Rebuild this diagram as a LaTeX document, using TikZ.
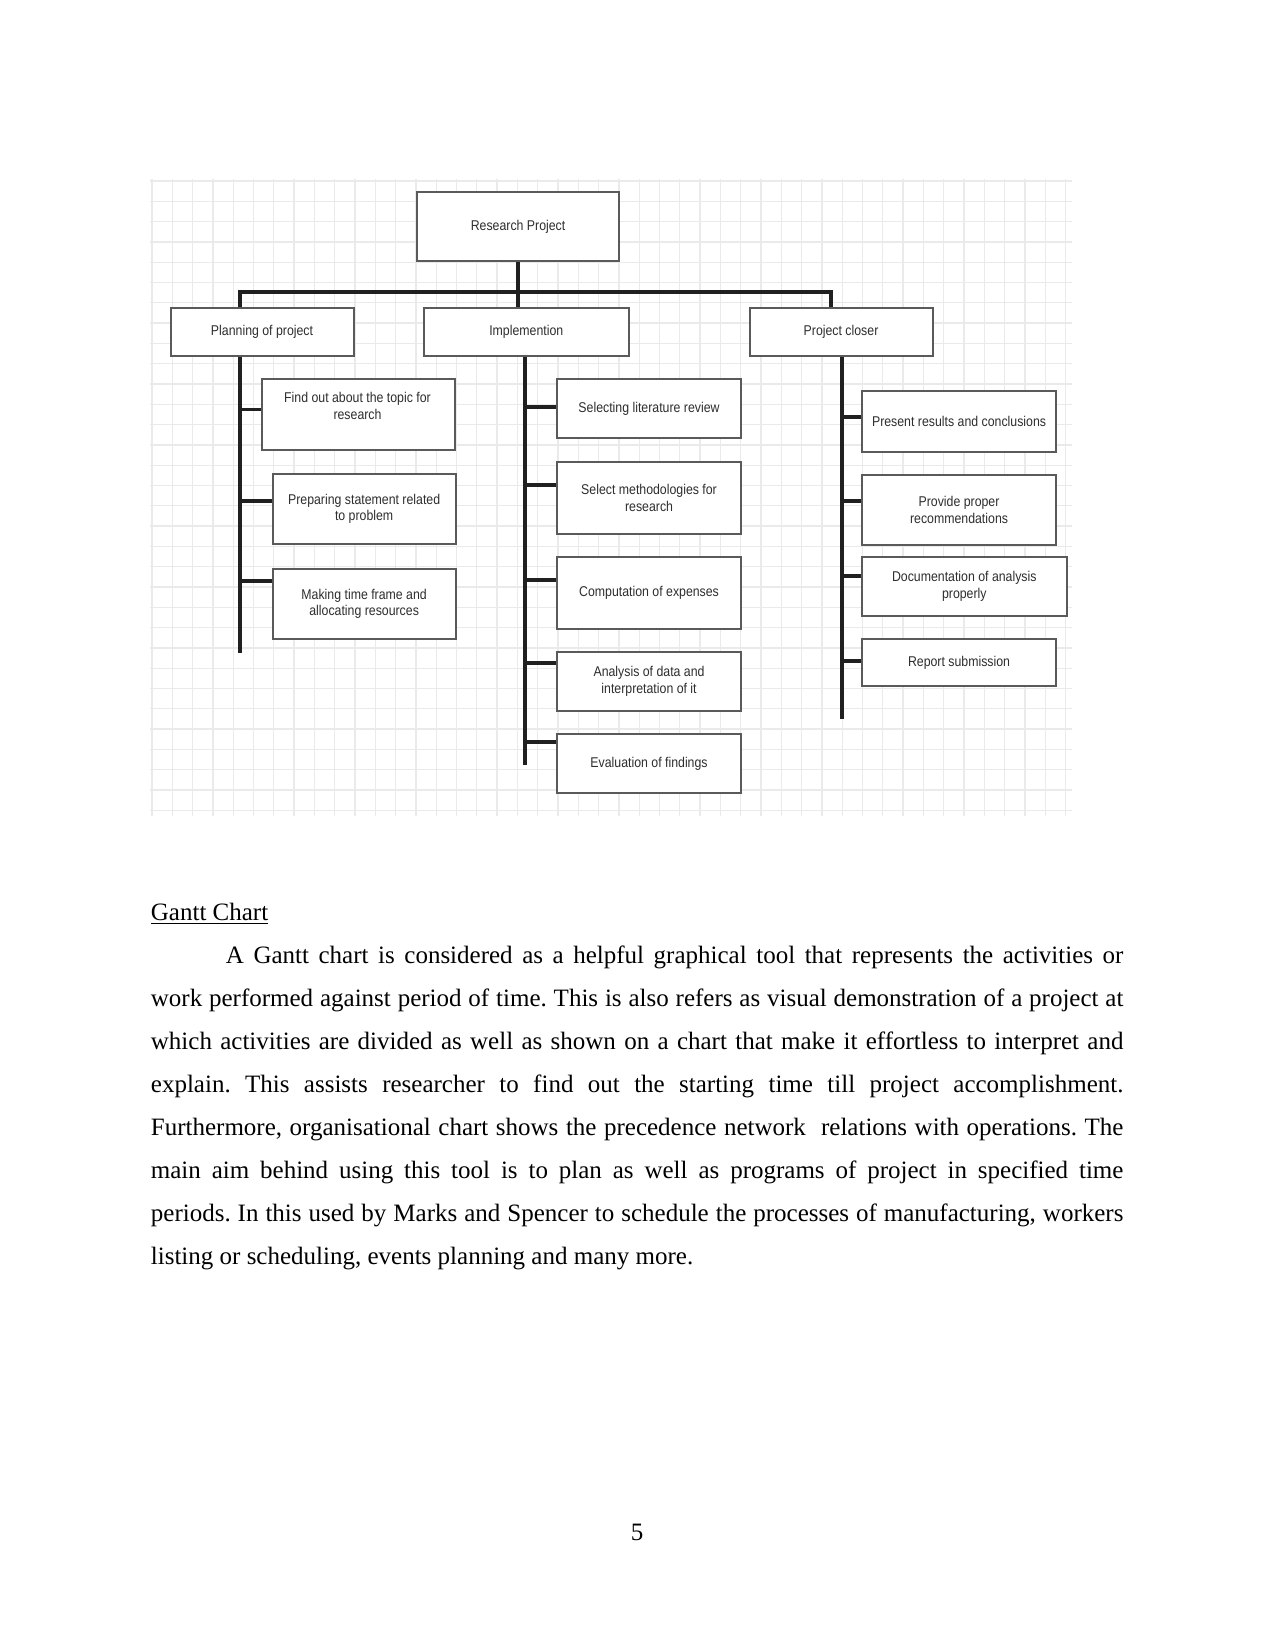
\documentclass[tikz,border=0pt]{standalone}
\usepackage{fontspec}
\setmainfont{Liberation Serif}
\newfontfamily\diagfont[FakeStretch=0.87]{Liberation Sans}
\definecolor{boxgray}{HTML}{5A5A5A}
\definecolor{conncol}{HTML}{202020}
\definecolor{txtgray}{HTML}{2E2E2E}
\definecolor{gridcol}{HTML}{EAEAEA}
\begin{document}
\frenchspacing
\begin{tikzpicture}[x=0.48pt,y=-0.48pt,
  box/.style={draw=boxgray, line width=1pt, fill=white, anchor=north west,
    font=\diagfont\fontsize{6.8pt}{8.1pt}\selectfont, text=txtgray, align=center, inner sep=0pt},
  lbl/.style={font=\diagfont\fontsize{6.8pt}{8.1pt}\selectfont, text=txtgray, align=center, inner sep=0pt},
  conn/.style={draw=conncol, line width=1.5pt},
  gridl/.style={draw=gridcol, line width=0.6pt},
  body/.style={font=\fontsize{12pt}{20.7pt}\selectfont, inner sep=0pt}]
\useasboundingbox (0,0) rectangle (1275,1651);
% background grid
\foreach \x in {152,172.3,...,1072} \draw[gridl] (\x,179) -- (\x,816);
\foreach \y in {181,201.3,...,816} \draw[gridl] (150,\y) -- (1072,\y);

% trunk end points
\coordinate (busL) at (240,292);
\coordinate (busR) at (831,292);
\coordinate (tP) at (240,653);
\coordinate (tI) at (525,765);
\coordinate (tC) at (842,719);

% boxes
\node[box, minimum width=202*0.48pt, minimum height=69*0.48pt] (RP) at (416,191) {Research Project};
\node[box, minimum width=183*0.48pt, minimum height=48*0.48pt] (P) at (169.5,307) {Planning of project};
\node[box, minimum width=204.5*0.48pt, minimum height=48*0.48pt] (I) at (423,307) {Implemention};
\node[box, minimum width=183*0.48pt, minimum height=48*0.48pt] (C) at (748.5,307) {Project closer};

\draw[conn] (RP.south) -- (I.north -| RP.south);
\draw[conn] (P.north -| busL) -- (busL) -- (busR) -- (C.north -| busR);
\draw[conn] (P.south -| tP) -- (tP);
\draw[conn] (I.south -| tI) -- (tI);
\draw[conn] (C.south -| tC) -- (tC);

% planning children
\node[box, minimum width=193*0.48pt, minimum height=70.5*0.48pt] (p1) at (261,378) {};
\node[lbl] (p1t) at (357.5,405.5) {Find out about the topic for\\research};
\node[box, minimum width=183*0.48pt, minimum height=70.3*0.48pt] (p2) at (271.6,472.7) {Preparing statement related\\to problem};
\node[box, minimum width=183*0.48pt, minimum height=70.5*0.48pt] (p3) at (271.6,567.5) {Making time frame and\\allocating resources};
\draw[conn] (tP |- 0,409.5) -- (p1.west |- 0,409.5);
\draw[conn] (tP |- 0,501) -- (p2.west |- 0,501);
\draw[conn] (tP |- 0,581) -- (p3.west |- 0,581);

% implementation children
\node[box, minimum width=184*0.48pt, minimum height=59*0.48pt] (i1) at (556,378) {Selecting literature review};
\node[box, minimum width=184*0.48pt, minimum height=72*0.48pt] (i2) at (556,461) {Select methodologies for\\research};
\node[box, minimum width=184*0.48pt, minimum height=71.5*0.48pt] (i3) at (556,556) {Computation of expenses};
\node[box, minimum width=184*0.48pt, minimum height=59*0.48pt] (i4) at (556,650.6) {Analysis of data and\\interpretation of it};
\node[box, minimum width=184*0.48pt, minimum height=59*0.48pt] (i5) at (556,733) {Evaluation of findings};
\draw[conn] (tI |- 0,407) -- (i1.west |- 0,407);
\draw[conn] (tI |- 0,485) -- (i2.west |- 0,485);
\draw[conn] (tI |- 0,580) -- (i3.west |- 0,580);
\draw[conn] (tI |- 0,663) -- (i4.west |- 0,663);
\draw[conn] (tI |- 0,742) -- (i5.west |- 0,742);

% closer children
\node[box, minimum width=194*0.48pt, minimum height=61*0.48pt] (c1) at (861,389.5) {Present results and conclusions};
\node[box, minimum width=194*0.48pt, minimum height=70*0.48pt] (c2) at (861,473.8) {Provide proper\\recommendations};
\node[box, minimum width=204.5*0.48pt, minimum height=59*0.48pt] (c3) at (861,556) {Documentation of analysis\\properly};
\node[box, minimum width=194*0.48pt, minimum height=47*0.48pt] (c4) at (861,638) {Report submission};
\draw[conn] (tC |- 0,417) -- (c1.west |- 0,417);
\draw[conn] (tC |- 0,501) -- (c2.west |- 0,501);
\draw[conn] (tC |- 0,576) -- (c3.west |- 0,576);
\draw[conn] (tC |- 0,661) -- (c4.west |- 0,661);

% text
\node[body, anchor=base west] (gh) at (150.5,920) {\underline{Gantt Chart}};
\node[body, anchor=base west, text width=466.8pt, align=justify] (para) at (150.5,963)
{\frenchspacing\hyphenpenalty=10000\tolerance=9999\hspace*{36pt}A Gantt chart is considered as a helpful graphical tool that represents the activities or\linebreak
work performed against period of time. This is also refers as visual demonstration of a project at\linebreak
which activities are divided as well as shown on a chart that make it effortless to interpret and\linebreak
explain. This assists researcher to find out the starting time till project accomplishment.\linebreak
Furthermore, organisational chart shows the precedence network\ \ relations with operations. The\linebreak
main aim behind using this tool is to plan as well as programs of project in specified time\linebreak
periods. In this used by Marks and Spencer to schedule the processes of manufacturing, workers\linebreak
listing or scheduling, events planning and many more.};
\node[body, anchor=base] (pg) at (637,1540) {5};
\end{tikzpicture}
\end{document}
